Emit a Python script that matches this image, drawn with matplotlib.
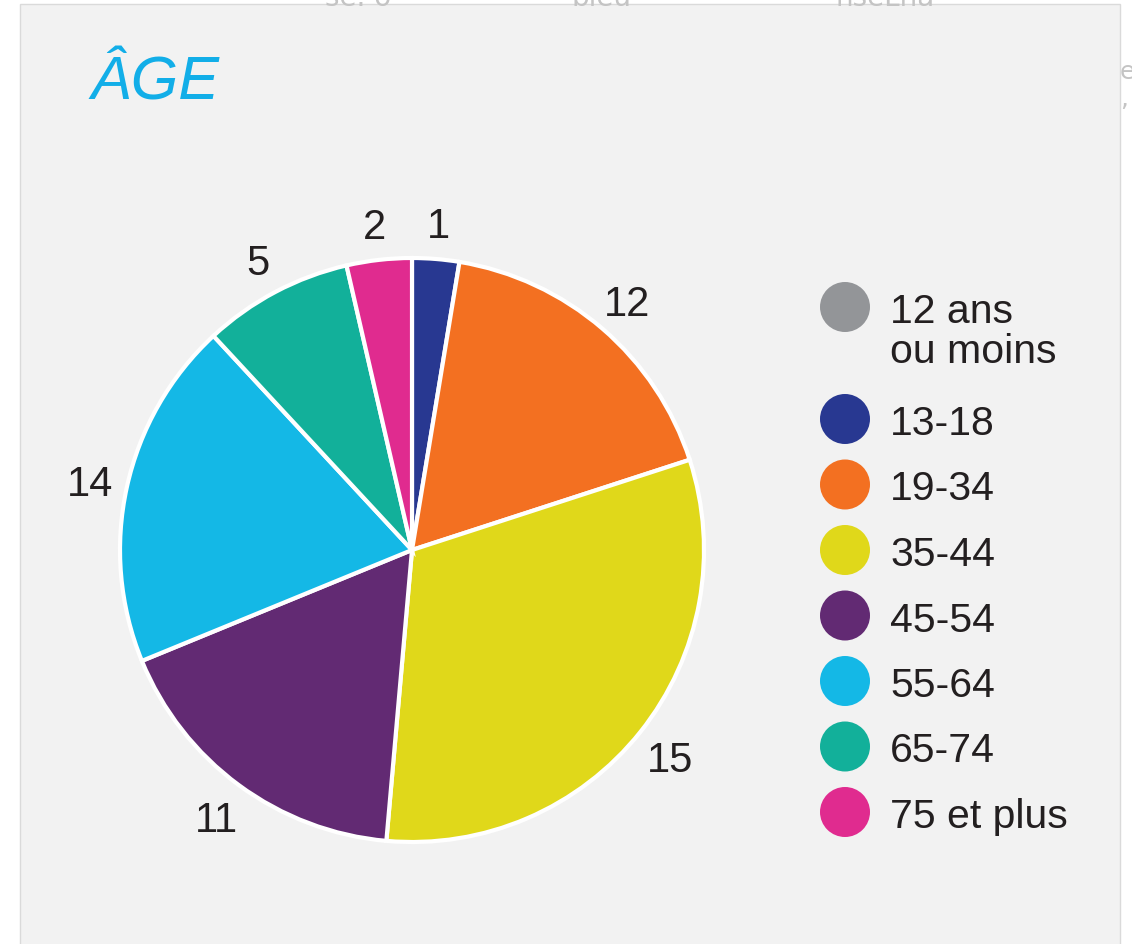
import matplotlib
matplotlib.use("Agg")
import matplotlib.pyplot as plt
import numpy as np
from matplotlib.patches import Rectangle

# ---- data ----
title = "ÂGE"
categories = ["12 ans\nou moins", "13-18", "19-34", "35-44", "45-54", "55-64", "65-74", "75 et plus"]
counts = [0, 1, 12, 15, 11, 14, 5, 2]               # labels shown on the pie
shares = [0.0, 2.6, 17.4, 31.4, 17.4, 19.3, 8.3, 3.6]  # slice sizes (%)
colors = ["#939598", "#283891", "#f37021", "#e0d81a", "#622a73", "#14b8e6", "#12b09a", "#e02b8f"]

W, H, DPI = 1132, 945, 100
fig = plt.figure(figsize=(W / DPI, H / DPI), dpi=DPI)
fig.patch.set_facecolor("white")

FONT = ["Liberation Sans", "DejaVu Sans"]

# background / card layer in pixel coordinates
bg = fig.add_axes([0, 0, 1, 1])
bg.set_xlim(0, W)
bg.set_ylim(H, 0)
bg.axis("off")
bg.add_patch(Rectangle((20, 5), 1100, 960, facecolor="#f2f2f2", edgecolor="#dadada", lw=1.0))

# faint page fragments around the card
for txt, x, y in [("se. o", 325, 6), ("bleu", 572, 6), ("nseLna", 836, 6)]:
    bg.text(x, y, txt, fontsize=20, color="#c4c4c4", family="DejaVu Sans", ha="left", va="baseline")
bg.text(1120, 79, "e", fontsize=18, color="#c4c4c4", family="DejaVu Sans", ha="left", va="baseline")
bg.text(1120, 106, ",", fontsize=18, color="#c4c4c4", family="DejaVu Sans", ha="left", va="baseline")

# title
bg.text(90, 100, title, fontsize=44, color="#12aee8", style="italic", family=FONT,
        ha="left", va="baseline")

# ---- pie ----
cx, cy, R = 412, 551, 292
ax = fig.add_axes([(cx - R) / W, (H - cy - R) / H, 2 * R / W, 2 * R / H])
ax.set_facecolor("none")
idx = [i for i, s in enumerate(shares) if s > 0]
wedges, _ = ax.pie([shares[i] for i in idx], colors=[colors[i] for i in idx],
                   startangle=90, counterclock=False,
                   wedgeprops=dict(edgecolor="white", linewidth=3))
ax.set_xlim(-1, 1)
ax.set_ylim(-1, 1)
ax.set_aspect("equal")
ax.axis("off")
for w, i in zip(wedges, idx):
    ang = np.deg2rad((w.theta1 + w.theta2) / 2)
    ax.text(1.13 * np.cos(ang), 1.13 * np.sin(ang), str(counts[i]), fontsize=30,
            color="#231f20", family=FONT, ha="center", va="center_baseline", clip_on=False)

# ---- legend ----
lx, tx = 845, 890
ys = [308] + [420 + 65.5 * k for k in range(len(categories) - 1)]
for lab, col, y in zip(categories, colors, ys):
    bg.scatter([lx], [y], s=36 ** 2, color=col, edgecolors="none")
    bg.text(tx, y - 15, lab, fontsize=29.5, color="#231f20", family=FONT,
            ha="left", va="top", linespacing=1.08)

fig.savefig("out.png", dpi=DPI, facecolor=fig.get_facecolor())
